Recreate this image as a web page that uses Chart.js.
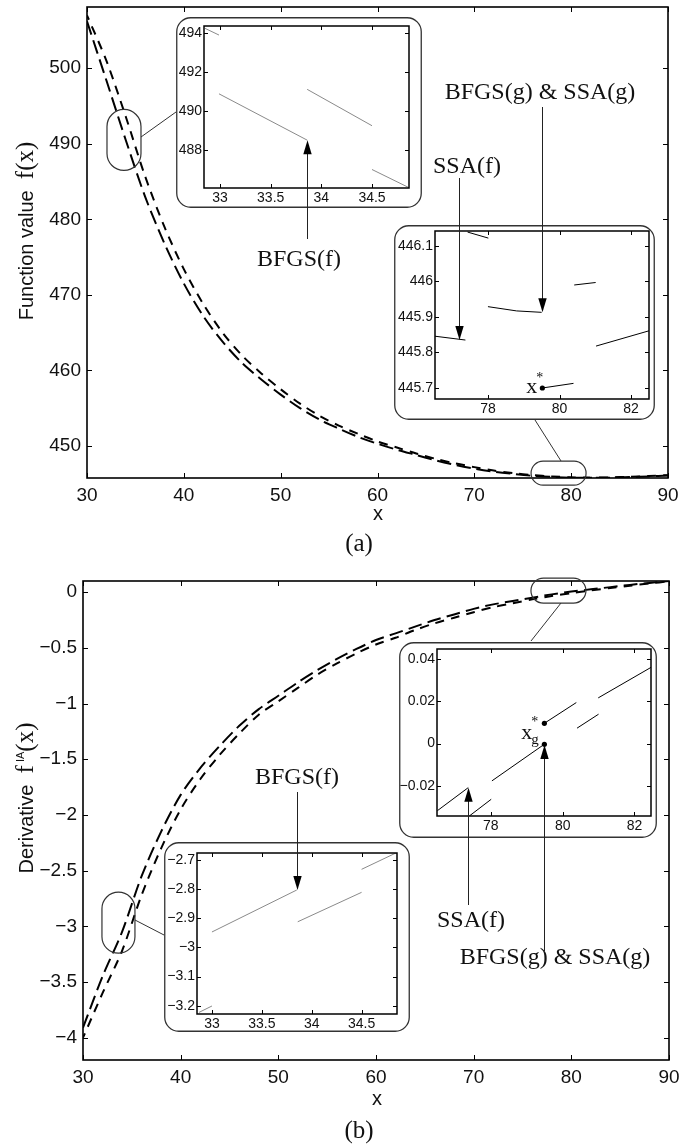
<!DOCTYPE html>
<html>
<head>
<meta charset="utf-8">
<script src="https://cdn.jsdelivr.net/npm/chart.js@4.4.1/dist/chart.umd.min.js"></script>
<style>
  body { margin: 0; background: #fff; }
  #page { position: relative; width: 679px; height: 1147px; overflow: hidden; background: #fff; }
  #page canvas { position: absolute; }
  #overlay { pointer-events: none; }
</style>
</head>
<body>
<div id="page">
  <canvas id="mainA"></canvas>
  <canvas id="mainB"></canvas>
  <canvas id="zoomAf"></canvas>
  <canvas id="zoomAg"></canvas>
  <canvas id="zoomBf"></canvas>
  <canvas id="zoomBg"></canvas>
  <canvas id="overlay"></canvas>
</div>
<script>
// ---- data ----
const xMain = [30, 32, 34, 36, 38, 40, 42, 44, 46, 48, 50, 52, 54, 56, 58, 60, 62, 64, 66, 68, 70, 72, 74, 76, 78, 80, 82, 84, 86, 88, 90];

// (a) function value, two runs
const fRun1 = [506.2, 498.4, 490.5, 483.0, 476.8, 471.5, 467.2, 463.8, 461.0, 458.8, 456.8, 455.0, 453.5, 452.3, 451.2, 450.3, 449.5, 448.8, 448.1, 447.5, 447.0, 446.6, 446.3, 446.05, 445.9, 445.8, 445.78, 445.8, 445.88, 445.97, 446.1];
const fRun2 = [507.0, 501.0, 493.6, 485.7, 479.0, 473.4, 468.8, 465.0, 462.0, 459.6, 457.5, 455.6, 454.0, 452.7, 451.6, 450.6, 449.8, 449.0, 448.3, 447.7, 447.2, 446.75, 446.4, 446.15, 445.97, 445.85, 445.8, 445.84, 445.92, 446.02, 446.14];

// (b) derivative, two runs
const dRun1 = [-3.91, -3.45, -3.05, -2.55, -2.15, -1.82, -1.58, -1.38, -1.2, -1.05, -0.93, -0.81, -0.7, -0.6, -0.51, -0.43, -0.37, -0.31, -0.25, -0.2, -0.15, -0.11, -0.08, -0.05, -0.02, 0.005, 0.025, 0.045, 0.065, 0.083, 0.1];
const dRun2 = [-4.0, -3.6, -3.22, -2.72, -2.3, -1.95, -1.68, -1.46, -1.27, -1.1, -0.98, -0.86, -0.74, -0.64, -0.55, -0.47, -0.41, -0.34, -0.28, -0.23, -0.18, -0.135, -0.1, -0.065, -0.035, -0.01, 0.015, 0.037, 0.058, 0.078, 0.097];

// zoom (a), left: BFGS(f) pieces
const zoomAfX = [[32.85, 32.99], [32.99, 33.86], [33.86, 34.5], [34.5, 34.86]];
const zoomAfY = [[494.26, 493.91], [490.89, 488.51], [491.12, 489.25], [487.0, 486.08]];

// zoom (a), right: pieces near the minimum
const zoomAgX = [[77.43, 78.01], [80.41, 81.01], [78.0, 78.8, 79.5], [76.5, 77.37], [81.02, 82.5], [79.52, 80.39]];
const zoomAgY = [[446.139, 446.122], [445.99, 445.997], [445.929, 445.917, 445.913], [445.846, 445.835], [445.818, 445.861], [445.70, 445.713]];
const starAgX = [79.52];
const starAgY = [445.70];

// zoom (b), left: BFGS(f) pieces
const zoomBfX = [[32.87, 33.0], [33.0, 33.85], [33.86, 34.5], [34.5, 34.85]];
const zoomBfY = [[-3.223, -3.201], [-2.947, -2.803], [-2.912, -2.811], [-2.732, -2.675]];

// zoom (b), right: pieces near the root
const zoomBgX = [[76.51, 77.37], [77.4, 78.01], [78.03, 79.49], [79.49, 80.38], [80.4, 81.0], [80.99, 82.47]];
const zoomBgY = [[-0.0317, -0.0208], [-0.0342, -0.0263], [-0.0176, -0.0003], [0.0096, 0.0194], [0.0073, 0.0139], [0.0216, 0.0361]];
const starBgX = [79.49, 79.49];
const starBgY = [0.0096, -0.0003];

// ticks
const ticksMainX = [30, 40, 50, 60, 70, 80, 90];
const ticksAY = [450, 460, 470, 480, 490, 500];
const ticksBY = [-4, -3.5, -3, -2.5, -2, -1.5, -1, -0.5, 0];
const ticksZoomFX = [33, 33.5, 34, 34.5];
const ticksAfY = [488, 490, 492, 494];
const ticksZoomGX = [78, 80, 82];
const ticksAgY = [445.7, 445.8, 445.9, 446, 446.1];
const ticksBfY = [-3.2, -3.1, -3, -2.9, -2.8, -2.7];
const ticksBgY = [-0.02, 0, 0.02, 0.04];

const SANS = '"Liberation Sans", Arial, sans-serif';
const SERIF = '"Liberation Serif", "Times New Roman", serif';

// ---- plugins ----
const matlabBox = {
    id: 'matlabBox',
    afterDatasetsDraw(chart, args, o) {
        const { ctx, chartArea: a } = chart;
        const sx = chart.scales.x, sy = chart.scales.y;
        ctx.save();
        ctx.strokeStyle = '#000';
        ctx.lineWidth = 1;
        ctx.beginPath();
        sx.ticks.forEach(t => {
            const p = Math.round(sx.getPixelForValue(t.value)) + 0.5;
            ctx.moveTo(p, a.bottom); ctx.lineTo(p, a.bottom - o.len);
            ctx.moveTo(p, a.top); ctx.lineTo(p, a.top + o.len);
        });
        sy.ticks.forEach(t => {
            const p = Math.round(sy.getPixelForValue(t.value)) + 0.5;
            ctx.moveTo(a.left, p); ctx.lineTo(a.left + o.len, p);
            ctx.moveTo(a.right, p); ctx.lineTo(a.right - o.len, p);
        });
        ctx.stroke();
        ctx.lineWidth = o.lw;
        ctx.strokeRect(a.left, a.top, a.right - a.left, a.bottom - a.top);
        ctx.restore();
    }
};

const roundFrame = {
    id: 'roundFrame',
    beforeDraw(chart, args, o) {
        if (!o.on) return;
        const ctx = chart.ctx;
        ctx.save();
        ctx.beginPath();
        ctx.roundRect(0.75, 0.75, chart.width - 1.5, chart.height - 1.5, o.r);
        ctx.fillStyle = '#fff';
        ctx.fill();
        ctx.lineWidth = 1.3;
        ctx.strokeStyle = '#333';
        ctx.stroke();
        ctx.restore();
    }
};

function fmt(v) {
    return String(+Number(v).toFixed(4)).replace('-', '\u2212');
}

function segSets(xs, ys, color, width) {
    return xs.map((sx, i) => ({
        data: sx.map((x, j) => ({ x: x, y: ys[i][j] })),
        borderColor: color, borderWidth: width, pointRadius: 0, tension: 0, fill: false
    }));
}

function dotSet(xs, ys) {
    return {
        data: xs.map((x, i) => ({ x: x, y: ys[i] })),
        showLine: false, pointRadius: 2.6, pointBackgroundColor: '#000', pointBorderColor: '#000', borderWidth: 0
    };
}

function makePlot(id, box, area, xr, yr, xTicks, yTicks, datasets, st) {
    const cv = document.getElementById(id);
    cv.width = box.w; cv.height = box.h;
    cv.style.left = box.x + 'px'; cv.style.top = box.y + 'px';
    cv.style.width = box.w + 'px'; cv.style.height = box.h + 'px';
    const noPad = s => { s.paddingLeft = 0; s.paddingRight = 0; s.paddingTop = 0; s.paddingBottom = 0; };
    return new Chart(cv, {
        type: 'line',
        data: { datasets: datasets },
        options: {
            responsive: false, animation: false, devicePixelRatio: 1,
            layout: { padding: { left: 0, top: area.top - box.y, right: box.x + box.w - area.right, bottom: 0 } },
            plugins: {
                legend: { display: false }, tooltip: { enabled: false },
                matlabBox: { len: st.tick, lw: st.lw },
                roundFrame: { on: st.frame, r: 14 }
            },
            scales: {
                x: {
                    type: 'linear', min: xr[0], max: xr[1],
                    grid: { display: false, drawTicks: false }, border: { display: false },
                    ticks: { font: { family: SANS, size: st.font }, color: '#111', padding: st.xpad, maxRotation: 0, autoSkip: false, callback: fmt },
                    afterBuildTicks: s => { s.ticks = xTicks.map(v => ({ value: v })); },
                    afterFit: s => { s.height = box.y + box.h - area.bottom; noPad(s); }
                },
                y: {
                    type: 'linear', min: yr[0], max: yr[1],
                    grid: { display: false, drawTicks: false }, border: { display: false },
                    ticks: { font: { family: SANS, size: st.font }, color: '#111', padding: st.ypad, autoSkip: false, callback: fmt },
                    afterBuildTicks: s => { s.ticks = yTicks.map(v => ({ value: v })); },
                    afterFit: s => { s.width = area.left - box.x; noPad(s); }
                }
            }
        },
        plugins: [matlabBox, roundFrame]
    });
}

const mainStyle = { font: 19, tick: 5, lw: 1.6, xpad: 6, ypad: 6, frame: false };
const zoomStyle = { font: 14, tick: 4, lw: 1.5, xpad: 2, ypad: 2, frame: true };

function runSets(r1, r2) {
    return [
        { data: xMain.map((x, i) => ({ x: x, y: r1[i] })), borderColor: '#000', borderWidth: 2, borderDash: [14, 6], pointRadius: 0, tension: 0.3, fill: false },
        { data: xMain.map((x, i) => ({ x: x, y: r2[i] })), borderColor: '#000', borderWidth: 2, borderDash: [9, 7], borderDashOffset: 4, pointRadius: 0, tension: 0.3, fill: false }
    ];
}

// ---- main panels ----
const boxA = { x: 0, y: 0, w: 679, h: 530 };
const mainA = makePlot('mainA', boxA, { left: 87, right: 668, top: 7, bottom: 478 },
    [30, 90], [445.76, 508.1], ticksMainX, ticksAY, runSets(fRun1, fRun2), mainStyle);

const boxB = { x: 0, y: 560, w: 679, h: 545 };
const mainB = makePlot('mainB', boxB, { left: 83, right: 669, top: 581, bottom: 1060 },
    [30, 90], [-4.2, 0.1], ticksMainX, ticksBY, runSets(dRun1, dRun2), mainStyle);

// ---- zoom windows ----
const boxAf = { x: 176, y: 17, w: 246, h: 191 };
const zoomAf = makePlot('zoomAf', boxAf, { left: 204, right: 409, top: 26, bottom: 188 },
    [32.842, 34.865], [486.05, 494.375], ticksZoomFX, ticksAfY, segSets(zoomAfX, zoomAfY, '#8a8a8a', 1), zoomStyle);

const boxAg = { x: 394, y: 225, w: 261, h: 195 };
const zoomAg = makePlot('zoomAg', boxAg, { left: 435, right: 649, top: 231, bottom: 399 },
    [76.52, 82.5], [445.669, 446.142], ticksZoomGX, ticksAgY,
    segSets(zoomAgX, zoomAgY, '#000', 1).concat([dotSet(starAgX, starAgY)]), zoomStyle);

const boxBf = { x: 164, y: 842, w: 246, h: 190 };
const zoomBf = makePlot('zoomBf', boxBf, { left: 197, right: 397, top: 853, bottom: 1014 },
    [32.85, 34.855], [-3.2285, -2.676], ticksZoomFX, ticksBfY, segSets(zoomBfX, zoomBfY, '#8a8a8a', 1), zoomStyle);

const boxBg = { x: 399, y: 642, w: 258, h: 196 };
const zoomBg = makePlot('zoomBg', boxBg, { left: 437, right: 651, top: 649, bottom: 816 },
    [76.5, 82.46], [-0.0342, 0.0447], ticksZoomGX, ticksBgY,
    segSets(zoomBgX, zoomBgY, '#000', 1).concat([dotSet(starBgX, starBgY)]), zoomStyle);

// ---- annotations on top ----
const ov = document.getElementById('overlay');
ov.width = 679; ov.height = 1147;
ov.style.left = '0px'; ov.style.top = '0px';
const ctx = ov.getContext('2d');

function pagePt(chart, box, x, y) {
    return [box.x + chart.scales.x.getPixelForValue(x), box.y + chart.scales.y.getPixelForValue(y)];
}

// small capsules marking the zoomed areas, centred on data coordinates
const capsules = [
    { chart: mainA, box: boxA, x: 33.82, y: 490.5, w: 34, h: 61 },
    { chart: mainA, box: boxA, x: 78.7, y: 446.4, w: 55, h: 24 },
    { chart: mainB, box: boxB, x: 33.63, y: -2.967, w: 33, h: 61 },
    { chart: mainB, box: boxB, x: 78.68, y: 0.013, w: 55, h: 25 }
];
const connectors = [
    [141, 137, 176, 112],
    [561, 461, 535, 420],
    [135, 920, 164, 935],
    [561, 603, 531, 641]
];

ctx.strokeStyle = '#333';
ctx.lineWidth = 1.2;
capsules.forEach(c => {
    const p = pagePt(c.chart, c.box, c.x, c.y);
    ctx.beginPath();
    ctx.roundRect(p[0] - c.w / 2, p[1] - c.h / 2, c.w, c.h, Math.min(c.w, c.h) / 2);
    ctx.stroke();
});
ctx.lineWidth = 1;
connectors.forEach(l => {
    ctx.beginPath(); ctx.moveTo(l[0], l[1]); ctx.lineTo(l[2], l[3]); ctx.stroke();
});

// arrows: tip given in the zoom window's data, tail as a page y
const arrows = [
    { chart: zoomAf, box: boxAf, x: 33.86, y: 488.51, tail: 239 },
    { chart: zoomAg, box: boxAg, x: 77.2, y: 445.835, tail: 178 },
    { chart: zoomAg, box: boxAg, x: 79.5, y: 445.913, tail: 107 },
    { chart: zoomBf, box: boxBf, x: 33.85, y: -2.803, tail: 792 },
    { chart: zoomBg, box: boxBg, x: 77.37, y: -0.0208, tail: 905 },
    { chart: zoomBg, box: boxBg, x: 79.49, y: -0.0006, tail: 951 }
];
arrows.forEach(a => {
    const p = pagePt(a.chart, a.box, a.x, a.y);
    const x = Math.round(p[0]) + 0.5, tip = p[1];
    const dir = Math.sign(tip - a.tail);
    ctx.strokeStyle = '#222'; ctx.lineWidth = 1;
    ctx.beginPath(); ctx.moveTo(x, a.tail); ctx.lineTo(x, tip - dir * 12); ctx.stroke();
    ctx.fillStyle = '#000';
    ctx.beginPath();
    ctx.moveTo(x, tip);
    ctx.lineTo(x - 4.2, tip - dir * 14);
    ctx.lineTo(x + 4.2, tip - dir * 14);
    ctx.closePath(); ctx.fill();
});

// method labels
const notes = [
    { text: 'BFGS(f)', x: 299, y: 266 },
    { text: 'SSA(f)', x: 467, y: 173 },
    { text: 'BFGS(g) & SSA(g)', x: 540, y: 99 },
    { text: 'BFGS(f)', x: 297, y: 784 },
    { text: 'SSA(f)', x: 471, y: 927 },
    { text: 'BFGS(g) & SSA(g)', x: 555, y: 964 }
];
ctx.fillStyle = '#111';
ctx.textAlign = 'center';
ctx.textBaseline = 'alphabetic';
ctx.font = '24px ' + SERIF;
notes.forEach(n => ctx.fillText(n.text, n.x, n.y));

// x* and x_g* next to their dots
(function () {
    const p = pagePt(zoomAg, boxAg, starAgX[0], starAgY[0]);
    ctx.textAlign = 'right';
    ctx.font = '22px ' + SERIF;
    ctx.fillText('x', p[0] - 5, p[1] + 5);
    ctx.textAlign = 'left';
    ctx.font = '14px ' + SERIF;
    ctx.fillText('*', p[0] - 6, p[1] - 6);

    const q = pagePt(zoomBg, boxBg, starBgX[0], starBgY[0]);
    ctx.textAlign = 'right';
    ctx.font = '22px ' + SERIF;
    ctx.fillText('x', q[0] - 12, q[1] + 16);
    ctx.textAlign = 'left';
    ctx.font = '14px ' + SERIF;
    ctx.fillText('*', q[0] - 13, q[1] + 3);
    ctx.font = '15px ' + SERIF;
    ctx.fillText('g', q[0] - 13, q[1] + 21);
})();

// axis titles
function rotatedTitle(parts, baseX, centerY) {
    ctx.save();
    ctx.translate(baseX, centerY);
    ctx.rotate(-Math.PI / 2);
    ctx.textAlign = 'left';
    ctx.textBaseline = 'alphabetic';
    let total = 0;
    parts.forEach(pt => { ctx.font = pt.font; pt.w = ctx.measureText(pt.text).width; total += pt.w; });
    let cx = -total / 2;
    parts.forEach(pt => { ctx.font = pt.font; ctx.fillText(pt.text, cx, -(pt.rise || 0)); cx += pt.w; });
    ctx.restore();
}
ctx.fillStyle = '#111';
rotatedTitle([
    { text: 'Function value  ', font: '20px ' + SANS },
    { text: 'f(x)', font: '25px ' + SERIF }
], 33, 231);
rotatedTitle([
    { text: 'Derivative  ', font: '20px ' + SANS },
    { text: 'f', font: '25px ' + SERIF },
    { text: ' IA', font: '11px ' + SANS, rise: 9 },
    { text: '(x)', font: '25px ' + SERIF }
], 33, 798);

ctx.textAlign = 'center';
ctx.textBaseline = 'alphabetic';
ctx.font = '20px ' + SANS;
ctx.fillText('x', 378, 520);
ctx.fillText('x', 377, 1105);
ctx.font = '25px ' + SERIF;
ctx.fillText('(a)', 359, 551);
ctx.fillText('(b)', 359, 1138);
</script>
</body>
</html>
